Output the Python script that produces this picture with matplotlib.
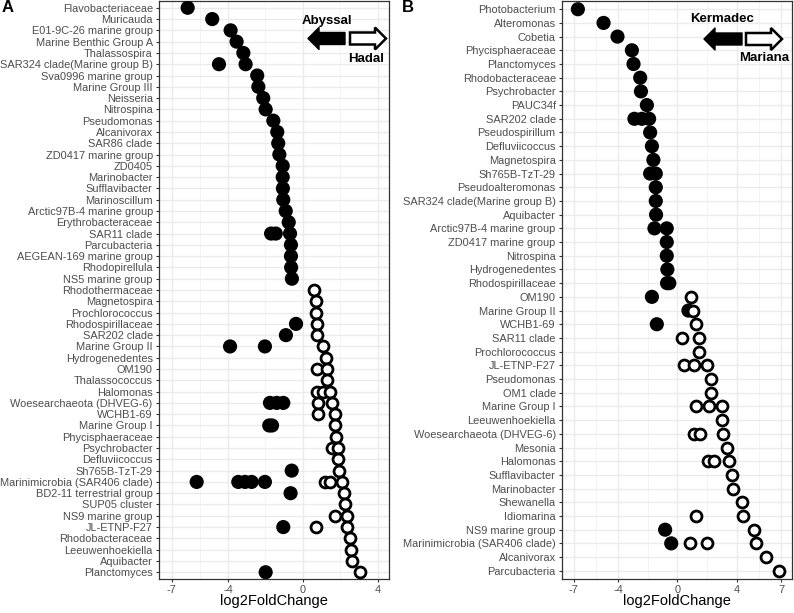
import matplotlib
matplotlib.use("Agg")
import matplotlib.pyplot as plt
from matplotlib.patches import Polygon
import numpy as np

plt.rcParams['font.family'] = ['Liberation Sans', 'DejaVu Sans']

# ---------------- Panel A data (Abyssal vs Hadal) ----------------
a_taxa = [
    "Flavobacteriaceae", "Muricauda", "E01-9C-26 marine group", "Marine Benthic Group A",
    "Thalassospira", "SAR324 clade(Marine group B)", "Sva0996 marine group", "Marine Group III",
    "Neisseria", "Nitrospina", "Pseudomonas", "Alcanivorax", "SAR86 clade",
    "ZD0417 marine group", "ZD0405", "Marinobacter", "Sufflavibacter", "Marinoscillum",
    "Arctic97B-4 marine group", "Erythrobacteraceae", "SAR11 clade", "Parcubacteria",
    "AEGEAN-169 marine group", "Rhodopirellula", "NS5 marine group", "Rhodothermaceae",
    "Magnetospira", "Prochlorococcus", "Rhodospirillaceae", "SAR202 clade", "Marine Group II",
    "Hydrogenedentes", "OM190", "Thalassococcus", "Halomonas", "Woesearchaeota (DHVEG-6)",
    "WCHB1-69", "Marine Group I", "Phycisphaeraceae", "Psychrobacter", "Defluviicoccus",
    "Sh765B-TzT-29", "Marinimicrobia (SAR406 clade)", "BD2-11 terrestrial group",
    "SUP05 cluster", "NS9 marine group", "JL-ETNP-F27", "Rhodobacteraceae",
    "Leeuwenhoekiella", "Aquibacter", "Planctomyces",
]
# log2FoldChange of OTUs enriched in Abyssal (filled) per taxon
a_abyssal = [
    [-6.15], [-4.84], [-3.86], [-3.54], [-3.18], [-4.48, -3.06], [-2.44], [-2.38],
    [-2.12], [-1.99], [-1.58], [-1.37], [-1.32], [-1.26], [-1.08], [-1.08], [-1.07],
    [-1.05], [-0.92], [-0.76], [-1.70, -1.45, -0.69], [-0.64], [-0.64], [-0.63], [-0.59],
    [], [], [], [-0.37], [-0.91], [-3.89, -2.03], [], [], [], [],
    [-1.76, -1.40, -1.05], [], [-1.80, -1.65], [], [], [], [-0.60],
    [-5.67, -3.45, -3.09, -2.74, -2.03], [-0.66], [], [], [-1.05], [], [], [], [-1.99],
]
# log2FoldChange of OTUs enriched in Hadal (open) per taxon
a_hadal = [
    [], [], [], [], [], [], [], [], [], [], [], [], [], [], [], [], [], [], [], [], [],
    [], [], [], [], [0.60], [0.69], [0.69], [0.73], [0.76], [1.08], [1.21], [0.73, 1.26],
    [1.26], [0.73, 1.08, 1.44], [0.82, 1.53], [0.78, 1.71], [1.71], [1.76], [1.55, 1.88],
    [1.88], [1.94], [1.20, 1.45, 2.06], [2.19], [2.24], [1.71, 2.36], [0.68, 2.36], [2.51],
    [2.54], [2.63], [3.04],
]
a_ticks = [-7, -4, 0, 4]

# ---------------- Panel B data (Kermadec vs Mariana) ----------------
b_taxa = [
    "Photobacterium", "Alteromonas", "Cobetia", "Phycisphaeraceae", "Planctomyces",
    "Rhodobacteraceae", "Psychrobacter", "PAUC34f", "SAR202 clade", "Pseudospirillum",
    "Defluviicoccus", "Magnetospira", "Sh765B-TzT-29", "Pseudoalteromonas",
    "SAR324 clade(Marine group B)", "Aquibacter", "Arctic97B-4 marine group",
    "ZD0417 marine group", "Nitrospina", "Hydrogenedentes", "Rhodospirillaceae", "OM190",
    "Marine Group II", "WCHB1-69", "SAR11 clade", "Prochlorococcus", "JL-ETNP-F27",
    "Pseudomonas", "OM1 clade", "Marine Group I", "Leeuwenhoekiella",
    "Woesearchaeota (DHVEG-6)", "Mesonia", "Halomonas", "Sufflavibacter", "Marinobacter",
    "Shewanella", "Idiomarina", "NS9 marine group", "Marinimicrobia (SAR406 clade)",
    "Alcanivorax", "Parcubacteria",
]
b_kermadec = [
    [-6.71], [-4.98], [-4.04], [-3.07], [-2.96], [-2.51], [-2.46], [-2.06],
    [-2.90, -2.40, -1.91], [-1.84], [-1.72], [-1.62], [-1.84, -1.46], [-1.46], [-1.46],
    [-1.44], [-1.55, -0.72], [-0.72], [-0.72], [-0.68], [-0.70, -0.55], [-1.72], [0.74],
    [-1.39], [], [], [], [], [], [], [], [], [], [], [], [], [], [], [-0.83], [-0.42], [], [],
]
b_mariana = [
    [], [], [], [], [], [], [], [], [], [], [], [], [], [], [], [], [], [], [], [], [],
    [0.94], [1.05], [1.22], [0.34, 1.46], [1.46], [0.47, 1.14, 2.02], [2.27], [2.25],
    [1.26, 2.13, 2.99], [2.99], [1.10, 1.50, 3.07], [3.33], [2.09, 2.45, 3.47], [3.70],
    [3.77], [4.38], [1.26, 4.44], [5.16], [0.86, 1.98, 5.28], [5.95], [6.85],
]
b_ticks = [-7, -4, 0, 4, 7]

W, H = 794, 613
fig = plt.figure(figsize=(W / 100, H / 100), dpi=100)

def px_axes(x0, x1, y0, y1):
    return fig.add_axes([x0 / W, 1 - y1 / H, (x1 - x0) / W, (y1 - y0) / H])

def panel(ax, taxa, filled, opened, ticks, xlim):
    n = len(taxa)
    fx, fy, ox, oy = [], [], [], []
    for i, (f, o) in enumerate(zip(filled, opened)):
        fx += f; fy += [i] * len(f)
        ox += o; oy += [i] * len(o)
    ax.scatter(fx, fy, s=104, c='black', edgecolors='none', zorder=3)
    ax.scatter(ox, oy, s=62, facecolors='white', edgecolors='black', linewidths=2.0, zorder=4)
    ax.set_yticks(range(n))
    ax.set_yticklabels(taxa)
    ax.set_xticks(ticks)
    ax.set_xticklabels([str(t) for t in ticks])
    mids = [(a + b) / 2 for a, b in zip(ticks[:-1], ticks[1:])]
    ax.set_xticks(mids, minor=True)
    ax.set_ylim(n - 1 + 0.6, -0.6)
    ax.set_xlim(*xlim)
    ax.tick_params(axis='x', which='minor', length=0)
    ax.grid(True, which='major', color='#ebebeb', linewidth=1.0, zorder=0)
    ax.grid(True, which='minor', axis='x', color='#f2f2f2', linewidth=0.6, zorder=0)
    ax.set_axisbelow(True)
    ax.tick_params(axis='both', which='major', labelsize=7.9, colors='#333333',
                   labelcolor='#4d4d4d', length=2.5, width=0.8, pad=2)
    for sp in ax.spines.values():
        sp.set_color('#333333')
        sp.set_linewidth(0.9)
    ax.set_xlabel('log2FoldChange', fontsize=10.5, labelpad=-1, color='black')

axA = px_axes(159, 389, 1, 579)
panel(axA, a_taxa, a_abyssal, a_hadal, a_ticks, (-7.68, 4.59))
axB = px_axes(562, 792, 1, 579)
panel(axB, b_taxa, b_kermadec, b_mariana, b_ticks, (-7.78, 7.72))

# overlay for annotations (pixel coordinates)
ov = fig.add_axes([0, 0, 1, 1], zorder=10)
ov.set_xlim(0, W); ov.set_ylim(H, 0); ov.axis('off')

def arrow(xt, yc, length, direction, filled):
    hl, hh, hs = 11, 11, 6
    d = direction
    pts = [(xt, yc), (xt - d * hl, yc - hh), (xt - d * hl, yc - hs), (xt - d * length, yc - hs),
           (xt - d * length, yc + hs), (xt - d * hl, yc + hs), (xt - d * hl, yc + hh)]
    if filled:
        ov.add_patch(Polygon(pts, closed=True, facecolor='black', edgecolor='black',
                             linewidth=1.0, joinstyle='round'))
    else:
        ov.add_patch(Polygon(pts, closed=True, facecolor='white', edgecolor='black',
                             linewidth=1.8, joinstyle='miter'))

# Panel A legend
ov.text(327, 21, 'Abyssal', ha='center', va='center', fontsize=9.5, fontweight='bold')
arrow(308, 38.5, 37, -1, True)
arrow(386, 38.5, 36, 1, False)
ov.text(366, 59, 'Hadal', ha='center', va='center', fontsize=9.5, fontweight='bold')
# Panel B legend
ov.text(722, 19, 'Kermadec', ha='center', va='center', fontsize=9.5, fontweight='bold')
arrow(704, 39, 38, -1, True)
arrow(782, 39, 36, 1, False)
ov.text(764, 58, 'Mariana', ha='center', va='center', fontsize=9.5, fontweight='bold')

ov.text(2, 8, 'A', ha='left', va='center', fontsize=12, fontweight='bold')
ov.text(402, 8, 'B', ha='left', va='center', fontsize=12, fontweight='bold')

fig.savefig('out.png', dpi=100)
